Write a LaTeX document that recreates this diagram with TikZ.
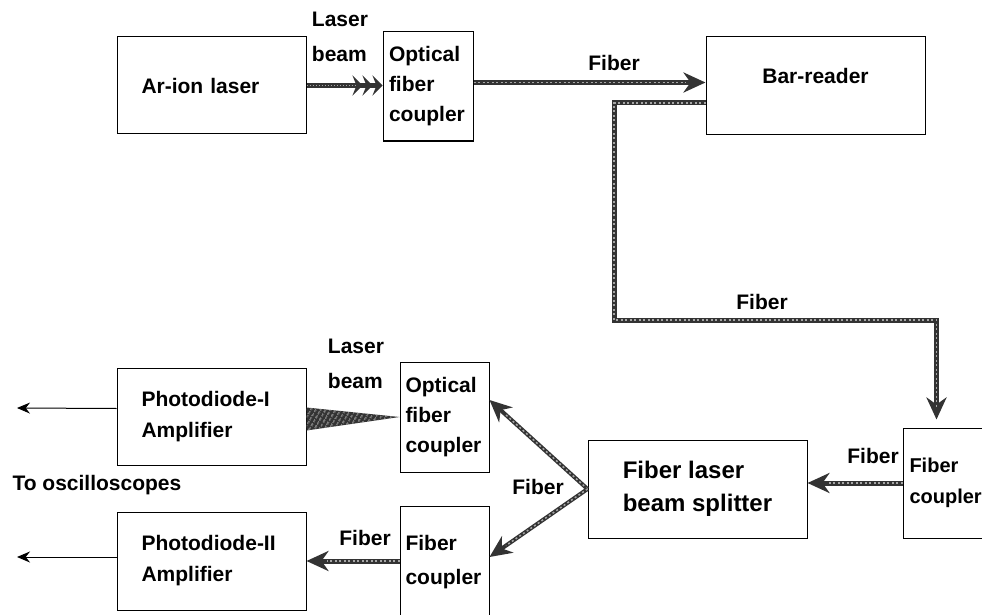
\documentclass[tikz,border=0pt]{standalone}
\usepackage{fontspec}
\setmainfont{Liberation Sans}
\usetikzlibrary{arrows.meta, patterns.meta}

\begin{document}
\begin{tikzpicture}[x=1pt, y=-1pt,
    every node/.style={font=\fontsize{21}{30}\selectfont\bfseries},
    block/.style={draw, line width=1pt, inner sep=0pt},
    fiber/.style={line width=5pt, draw=black!80,
        -{Stealth[length=22pt, width=20pt, inset=7pt]},
        postaction={draw=black!35, line width=1.5pt, dash pattern=on 2pt off 2.5pt, -, shorten >=20pt}},
    beam/.style={line width=5pt, draw=black!80,
        -{Stealth[length=10pt, width=20pt, inset=4pt] Stealth[length=10pt, width=20pt, inset=4pt] Stealth[length=10pt, width=20pt, inset=4pt]},
        postaction={draw=black!35, line width=1.5pt, dash pattern=on 1.5pt off 1.5pt, -, shorten >=26pt}},
    wedge/.style={fill=black!80,
        postaction={pattern={Lines[angle=60, distance=4pt, line width=1pt]}, pattern color=black!30}},
    scopearrow/.style={line width=1pt, -{Stealth[length=13pt, width=11pt]}}]

    \useasboundingbox (0,0) rectangle (982,615);

    % Top row
    \node[block, minimum width=189, minimum height=97, text width=140, align=left] (arion) at (211.5,85.5) {Ar-ion laser};
    \node[block, minimum width=90, minimum height=109, text width=78, align=left] (ocup1) at (428,86.5) {Optical\\fiber\\coupler};
    \node[block, minimum width=219, minimum height=98, text depth=20pt] (barreader) at (815.5,86) {Bar-reader};

    % Splitter and couplers
    \node[block, minimum width=87, minimum height=110, text width=74, align=left,
        font=\fontsize{20}{31}\selectfont\bfseries] (fcup1) at (946.5,483) {Fiber\\coupler};
    \node[block, minimum width=219, minimum height=98, align=left,
        font=\fontsize{24}{33}\selectfont\bfseries] (splitter) at (697.5,489) {Fiber laser\\beam splitter};
    \node[block, minimum width=89, minimum height=110, text width=78, align=left] (ocup2) at (444.5,417) {Optical\\fiber\\coupler};
    \node[block, minimum width=89, minimum height=112, text width=78, align=left,
        font=\fontsize{21}{34}\selectfont\bfseries] (fcup2) at (444.5,562) {Fiber\\coupler};

    % Photodiodes
    \node[block, minimum width=189, minimum height=97, text width=140, align=left,
        font=\fontsize{21}{31}\selectfont\bfseries] (pd1) at (211.5,416.5) {Photodiode-I\\Amplifier};
    \node[block, minimum width=189, minimum height=98, text width=140, align=left,
        font=\fontsize{21}{31}\selectfont\bfseries] (pd2) at (211.5,561) {Photodiode-II\\Amplifier};

    % Labels
    \node[align=left, font=\fontsize{21}{35}\selectfont\bfseries] (lbeam1) at (340,37) {Laser\\beam};
    \node[align=left, font=\fontsize{21}{35}\selectfont\bfseries] (lbeam2) at (356,364) {Laser\\beam};
    \node (fib1) at (614,63) {Fiber};
    \node (fib2) at (762,302) {Fiber};
    \node (fib3) at (873,456) {Fiber};
    \node (fib4) at (538,487) {Fiber};
    \node (fib5) at (365,538) {Fiber};
    \node[anchor=west] (osc) at (9,485) {To oscilloscopes};

    \coordinate (bend) at (614,320);
    \coordinate (osc1) at (17,408);
    \coordinate (osc2) at (17,557);

    % Connectors
    \draw[beam] (arion.east) -- (arion.east -| ocup1.west);
    \draw[fiber] ([yshift=4pt]ocup1.east) -- ([yshift=4pt]ocup1.east -| barreader.west);
    \draw[fiber, shorten >=8pt] ([yshift=-17pt]barreader.west) -| (bend) -| ([xshift=-10pt]fcup1.north);
    \draw[fiber] (fcup1.west) -- (fcup1.west -| splitter.east);
    \draw[fiber, line width=4pt] (splitter.west) -- ([yshift=17pt]ocup2.east);
    \draw[fiber, line width=4pt] (splitter.west) -- ([yshift=5pt]fcup2.east);
    \fill[wedge] (ocup2.west) -- ([yshift=9pt]pd1.east) -- ([yshift=-14pt]pd1.east) -- cycle;
    \draw[fiber] (pd2.east -| fcup2.west) -- (pd2.east);

    % To oscilloscopes
    \draw[scopearrow] ([yshift=8pt]pd1.west) -- (osc1);
    \draw[scopearrow] ([yshift=4pt]pd2.west) -- (osc2);
\end{tikzpicture}
\end{document}
